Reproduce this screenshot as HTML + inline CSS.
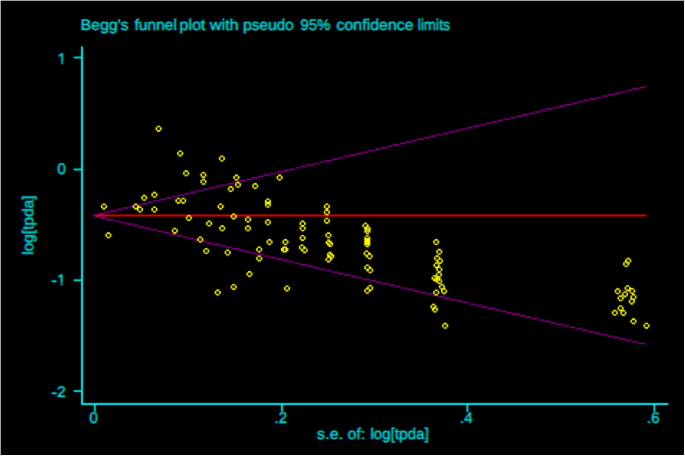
<!DOCTYPE html>
<html><head><meta charset="utf-8"><style>
html,body{margin:0;padding:0;background:#000;}
#f{position:absolute;left:0;top:0;width:683px;height:454px;background:#000;border-top:1px solid #a0a0a0;border-left:1px solid #a0a0a0;border-right:1px solid #fff;border-bottom:1px solid #fff;overflow:hidden}
svg{position:absolute;left:0;top:0}
text{font-family:"Liberation Sans",Arial,sans-serif;font-size:15.4px;text-rendering:geometricPrecision;fill:#00dcdc;stroke:#00dcdc;stroke-width:0.5px}
</style></head><body>
<div id="f"></div><div style="position:absolute;left:0;top:0;width:1px;height:1px;background:#e3e3e3"></div>
<svg width="685" height="456" viewBox="0 0 685 456">
<defs><filter id="bl" x="-5%" y="-5%" width="110%" height="110%"><feConvolveMatrix order="3" kernelMatrix="0.0225 0.1050 0.0225 0.1050 0.4900 0.1050 0.0225 0.1050 0.0225" divisor="1" edgeMode="none"/></filter>
<filter id="mb" x="-5%" y="-5%" width="110%" height="110%"><feConvolveMatrix order="3" kernelMatrix="0.0100 0.0800 0.0100 0.0800 0.6400 0.0800 0.0100 0.0800 0.0100" divisor="1" edgeMode="none"/></filter>
<filter id="tb" x="-5%" y="-5%" width="110%" height="110%" color-interpolation-filters="sRGB"><feConvolveMatrix in="SourceGraphic" order="3" kernelMatrix="0.0100 0.0800 0.0100 0.0800 0.6400 0.0800 0.0100 0.0800 0.0100" divisor="1" edgeMode="none" result="b"/>
<feColorMatrix in="b" type="matrix" values="0 0 0 0 0  0 1 0 0 0  0 0 0 0 0  0 0 0 1 0" result="g"/><feConvolveMatrix in="g" order="3 1" kernelMatrix="0 0.55 0.45" divisor="1" edgeMode="none" preserveAlpha="false" result="g2"/>
<feColorMatrix in="b" type="matrix" values="0 0 0 0 0  0 0 0 0 0  0 0 1 0 0  0 0 0 1 0" result="bb"/><feConvolveMatrix in="bb" order="3 1" kernelMatrix="0.45 0.55 0" divisor="1" edgeMode="none" preserveAlpha="false" result="b2"/>
<feComposite in="g2" in2="b2" operator="arithmetic" k1="0" k2="1" k3="1" k4="0"/></filter></defs>
<g filter="url(#bl)">
<g stroke="#00f0f0" stroke-width="2.0" fill="none">
<polyline points="82,46.5 82,404 668.3,404"/>
</g>
<g stroke="#00f0f0" stroke-width="1.8" fill="none">
<line x1="73.7" y1="57.5" x2="82" y2="57.5"/><line x1="73.7" y1="169.5" x2="82" y2="169.5"/><line x1="73.7" y1="280.25" x2="82" y2="280.25"/><line x1="73.7" y1="391.1" x2="82" y2="391.1"/><line x1="94.8" y1="404" x2="94.8" y2="412"/><line x1="281.9" y1="404" x2="281.9" y2="412"/><line x1="467.4" y1="404" x2="467.4" y2="412"/><line x1="654.4" y1="404" x2="654.4" y2="412"/>
</g>
</g>
<g filter="url(#tb)">
<text x="80.24" y="30.1" textLength="47.99" lengthAdjust="spacingAndGlyphs">Begg's</text><text x="134.20" y="30.1" textLength="42.21" lengthAdjust="spacingAndGlyphs">funnel</text><text x="179.13" y="30.1" textLength="25.98" lengthAdjust="spacingAndGlyphs">plot</text><text x="209.50" y="30.1" textLength="28.85" lengthAdjust="spacingAndGlyphs">with</text><text x="242.77" y="30.1" textLength="50.66" lengthAdjust="spacingAndGlyphs">pseudo</text><text x="300.10" y="30.1" textLength="29.93" lengthAdjust="spacingAndGlyphs">95%</text><text x="336.00" y="30.1" textLength="77.20" lengthAdjust="spacingAndGlyphs">confidence</text><text x="417.25" y="30.1" textLength="32.51" lengthAdjust="spacingAndGlyphs">limits</text>
<text x="65.8" y="63.7" text-anchor="end">1</text><rect x="57.34" y="61.00" width="3.62" height="4.1" fill="#000" stroke="none"/><rect x="62.62" y="61.00" width="3.60" height="4.1" fill="#000" stroke="none"/><text x="65.5" y="174.3" text-anchor="end">0</text><text x="65.4" y="284.8" text-anchor="end"><tspan style="font-size:17.5px" dy="1.45">-</tspan><tspan dy="-1.45">1</tspan></text><rect x="56.94" y="282.10" width="3.62" height="4.1" fill="#000" stroke="none"/><rect x="62.22" y="282.10" width="3.60" height="4.1" fill="#000" stroke="none"/><text x="65.3" y="396.9" text-anchor="end"><tspan style="font-size:17.5px" dy="1.45">-</tspan><tspan dy="-1.45">2</tspan></text>
<text x="93.3" y="423" text-anchor="middle">0</text><text x="280.4" y="423" text-anchor="middle">.2</text><text x="465.9" y="423" text-anchor="middle">.4</text><text x="652.9" y="423" text-anchor="middle">.6</text>
<text x="316.60" y="439.0" textLength="26.19" lengthAdjust="spacingAndGlyphs">s.e.</text><text x="347.30" y="439.0" textLength="17.52" lengthAdjust="spacingAndGlyphs">of:</text><text x="369.98" y="439.0" textLength="58.47" lengthAdjust="spacingAndGlyphs">log[tpda]</text>
<text transform="translate(32.9,254.83) rotate(-90)" textLength="59.40" lengthAdjust="spacingAndGlyphs">log[tpda]</text>
</g>
<g filter="url(#bl)">
<path fill="#900090" d="M92.70,214.55H98.44v1.4H92.70zM98.44,213.11H104.18v1.4H98.44zM104.18,211.68H109.92v1.4H104.18zM109.92,210.24H117.10v1.4H109.92zM117.10,208.81H122.84v1.4H117.10zM122.84,207.37H128.58v1.4H122.84zM128.58,205.94H134.32v1.4H128.58zM134.32,204.50H141.49v1.4H134.32zM141.49,203.07H147.23v1.4H141.49zM147.23,201.63H152.97v1.4H147.23zM152.97,200.20H160.15v1.4H152.97zM160.15,198.76H165.89v1.4H160.15zM165.89,197.33H171.63v1.4H165.89zM171.63,195.89H177.37v1.4H171.63zM177.37,194.46H184.54v1.4H177.37zM184.54,193.02H190.28v1.4H184.54zM190.28,191.59H196.02v1.4H190.28zM196.02,190.15H203.20v1.4H196.02zM203.20,188.72H208.94v1.4H203.20zM208.94,187.28H214.68v1.4H208.94zM214.68,185.85H220.42v1.4H214.68zM220.42,184.41H227.59v1.4H220.42zM227.59,182.98H233.33v1.4H227.59zM233.33,181.54H239.07v1.4H233.33zM239.07,180.11H246.25v1.4H239.07zM246.25,178.67H251.99v1.4H246.25zM251.99,177.24H257.73v1.4H251.99zM257.73,175.80H263.47v1.4H257.73zM263.47,174.37H270.64v1.4H263.47zM270.64,172.93H276.38v1.4H270.64zM276.38,171.50H282.12v1.4H276.38zM282.12,170.06H289.30v1.4H282.12zM289.30,168.63H295.04v1.4H289.30zM295.04,167.19H300.78v1.4H295.04zM300.78,165.76H306.52v1.4H300.78zM306.52,164.32H313.69v1.4H306.52zM313.69,162.89H319.43v1.4H313.69zM319.43,161.45H325.17v1.4H319.43zM325.17,160.02H332.35v1.4H325.17zM332.35,158.58H338.09v1.4H332.35zM338.09,157.15H343.83v1.4H338.09zM343.83,155.71H349.57v1.4H343.83zM349.57,154.28H356.74v1.4H349.57zM356.74,152.84H362.48v1.4H356.74zM362.48,151.41H368.22v1.4H362.48zM368.22,149.97H375.40v1.4H368.22zM375.40,148.54H381.14v1.4H375.40zM381.14,147.10H386.88v1.4H381.14zM386.88,145.67H392.62v1.4H386.88zM392.62,144.23H399.79v1.4H392.62zM399.79,142.80H405.53v1.4H399.79zM405.53,141.36H411.27v1.4H405.53zM411.27,139.93H417.01v1.4H411.27zM417.01,138.49H424.19v1.4H417.01zM424.19,137.06H429.93v1.4H424.19zM429.93,135.62H435.67v1.4H429.93zM435.67,134.19H442.84v1.4H435.67zM442.84,132.75H448.58v1.4H442.84zM448.58,131.32H454.32v1.4H448.58zM454.32,129.88H460.06v1.4H454.32zM460.06,128.45H467.24v1.4H460.06zM467.24,127.01H472.98v1.4H467.24zM472.98,125.58H478.72v1.4H472.98zM478.72,124.14H485.89v1.4H478.72zM485.89,122.71H491.63v1.4H485.89zM491.63,121.27H497.37v1.4H491.63zM497.37,119.84H503.11v1.4H497.37zM503.11,118.40H510.29v1.4H503.11zM510.29,116.97H516.03v1.4H510.29zM516.03,115.53H521.77v1.4H516.03zM521.77,114.10H528.94v1.4H521.77zM528.94,112.66H534.68v1.4H528.94zM534.68,111.23H540.42v1.4H534.68zM540.42,109.79H546.16v1.4H540.42zM546.16,108.36H553.34v1.4H546.16zM553.34,106.92H559.08v1.4H553.34zM559.08,105.49H564.82v1.4H559.08zM564.82,104.05H571.99v1.4H564.82zM571.99,102.62H577.73v1.4H571.99zM577.73,101.18H583.47v1.4H577.73zM583.47,99.75H589.21v1.4H583.47zM589.21,98.31H596.39v1.4H589.21zM596.39,96.88H602.13v1.4H596.39zM602.13,95.44H607.87v1.4H602.13zM607.87,94.01H615.04v1.4H607.87zM615.04,92.57H620.78v1.4H615.04zM620.78,91.14H626.52v1.4H620.78zM626.52,89.70H632.26v1.4H626.52zM632.26,88.27H639.44v1.4H632.26zM639.44,86.83H645.18v1.4H639.44zM645.18,85.40H646.61v1.4H645.18zM93.56,214.64H95.01v1.4H93.56zM95.01,216.09H100.83v1.4H95.01zM100.83,217.55H106.65v1.4H100.83zM106.65,219.00H113.93v1.4H106.65zM113.93,220.46H119.75v1.4H113.93zM119.75,221.91H125.57v1.4H119.75zM125.57,223.37H132.84v1.4H125.57zM132.84,224.82H138.66v1.4H132.84zM138.66,226.28H144.48v1.4H138.66zM144.48,227.73H150.30v1.4H144.48zM150.30,229.19H157.58v1.4H150.30zM157.58,230.64H163.40v1.4H157.58zM163.40,232.10H169.22v1.4H163.40zM169.22,233.55H176.49v1.4H169.22zM176.49,235.01H182.31v1.4H176.49zM182.31,236.46H188.13v1.4H182.31zM188.13,237.92H193.95v1.4H188.13zM193.95,239.37H201.23v1.4H193.95zM201.23,240.83H207.05v1.4H201.23zM207.05,242.28H212.87v1.4H207.05zM212.87,243.74H220.14v1.4H212.87zM220.14,245.19H225.96v1.4H220.14zM225.96,246.65H231.78v1.4H225.96zM231.78,248.10H239.06v1.4H231.78zM239.06,249.56H244.88v1.4H239.06zM244.88,251.01H250.70v1.4H244.88zM250.70,252.47H256.52v1.4H250.70zM256.52,253.92H263.79v1.4H256.52zM263.79,255.38H269.61v1.4H263.79zM269.61,256.83H275.43v1.4H269.61zM275.43,258.29H282.71v1.4H275.43zM282.71,259.74H288.53v1.4H282.71zM288.53,261.20H294.35v1.4H288.53zM294.35,262.65H300.17v1.4H294.35zM300.17,264.11H307.44v1.4H300.17zM307.44,265.56H313.26v1.4H307.44zM313.26,267.02H319.08v1.4H313.26zM319.08,268.47H326.36v1.4H319.08zM326.36,269.93H332.18v1.4H326.36zM332.18,271.38H338.00v1.4H332.18zM338.00,272.84H343.82v1.4H338.00zM343.82,274.29H351.09v1.4H343.82zM351.09,275.75H356.91v1.4H351.09zM356.91,277.20H362.73v1.4H356.91zM362.73,278.66H370.01v1.4H362.73zM370.01,280.11H375.83v1.4H370.01zM375.83,281.57H381.65v1.4H375.83zM381.65,283.02H388.92v1.4H381.65zM388.92,284.48H394.74v1.4H388.92zM394.74,285.93H400.56v1.4H394.74zM400.56,287.39H406.38v1.4H400.56zM406.38,288.84H413.66v1.4H406.38zM413.66,290.30H419.48v1.4H413.66zM419.48,291.75H425.30v1.4H419.48zM425.30,293.21H432.57v1.4H425.30zM432.57,294.66H438.39v1.4H432.57zM438.39,296.12H444.21v1.4H438.39zM444.21,297.57H450.03v1.4H444.21zM450.03,299.03H457.31v1.4H450.03zM457.31,300.48H463.13v1.4H457.31zM463.13,301.94H468.95v1.4H463.13zM468.95,303.39H476.22v1.4H468.95zM476.22,304.85H482.04v1.4H476.22zM482.04,306.30H487.86v1.4H482.04zM487.86,307.76H495.14v1.4H487.86zM495.14,309.21H500.96v1.4H495.14zM500.96,310.67H506.78v1.4H500.96zM506.78,312.12H512.60v1.4H506.78zM512.60,313.58H519.87v1.4H512.60zM519.87,315.03H525.69v1.4H519.87zM525.69,316.49H531.51v1.4H525.69zM531.51,317.94H538.79v1.4H531.51zM538.79,319.40H544.61v1.4H538.79zM544.61,320.85H550.43v1.4H544.61zM550.43,322.31H556.25v1.4H550.43zM556.25,323.76H563.52v1.4H556.25zM563.52,325.22H569.34v1.4H563.52zM569.34,326.67H575.16v1.4H569.34zM575.16,328.13H582.44v1.4H575.16zM582.44,329.58H588.26v1.4H582.44zM588.26,331.04H594.08v1.4H588.26zM594.08,332.49H599.90v1.4H594.08zM599.90,333.95H607.17v1.4H599.90zM607.17,335.40H612.99v1.4H607.17zM612.99,336.86H618.81v1.4H612.99zM618.81,338.31H626.09v1.4H618.81zM626.09,339.77H631.91v1.4H626.09zM631.91,341.22H637.73v1.4H631.91zM637.73,342.68H645.00v1.4H637.73zM645.00,344.13H646.46v1.4H645.00z"/>
<rect x="96.5" y="214.60" width="549.8" height="1.8" fill="#f00"/>
</g>
<g filter="url(#mb)">
<path fill="#ffff00" d="M157.10,125.70h3.00v1.60h-3.00zM157.10,130.10h3.00v1.60h-3.00zM155.60,127.20h1.60v3.00h-1.60zM160.00,127.20h1.60v3.00h-1.60zM178.70,150.40h3.00v1.60h-3.00zM178.70,154.80h3.00v1.60h-3.00zM177.20,151.90h1.60v3.00h-1.60zM181.60,151.90h1.60v3.00h-1.60zM220.40,155.50h3.00v1.60h-3.00zM220.40,159.90h3.00v1.60h-3.00zM218.90,157.00h1.60v3.00h-1.60zM223.30,157.00h1.60v3.00h-1.60zM184.60,170.30h3.00v1.60h-3.00zM184.60,174.70h3.00v1.60h-3.00zM183.10,171.80h1.60v3.00h-1.60zM187.50,171.80h1.60v3.00h-1.60zM201.90,171.90h3.00v1.60h-3.00zM201.90,176.30h3.00v1.60h-3.00zM200.40,173.40h1.60v3.00h-1.60zM204.80,173.40h1.60v3.00h-1.60zM201.90,178.80h3.00v1.60h-3.00zM201.90,183.20h3.00v1.60h-3.00zM200.40,180.30h1.60v3.00h-1.60zM204.80,180.30h1.60v3.00h-1.60zM234.90,174.60h3.00v1.60h-3.00zM234.90,179.00h3.00v1.60h-3.00zM233.40,176.10h1.60v3.00h-1.60zM237.80,176.10h1.60v3.00h-1.60zM236.50,181.80h3.00v1.60h-3.00zM236.50,186.20h3.00v1.60h-3.00zM235.00,183.30h1.60v3.00h-1.60zM239.40,183.30h1.60v3.00h-1.60zM229.30,186.10h3.00v1.60h-3.00zM229.30,190.50h3.00v1.60h-3.00zM227.80,187.60h1.60v3.00h-1.60zM232.20,187.60h1.60v3.00h-1.60zM253.70,183.10h3.00v1.60h-3.00zM253.70,187.50h3.00v1.60h-3.00zM252.20,184.60h1.60v3.00h-1.60zM256.60,184.60h1.60v3.00h-1.60zM278.10,174.60h3.00v1.60h-3.00zM278.10,179.00h3.00v1.60h-3.00zM276.60,176.10h1.60v3.00h-1.60zM281.00,176.10h1.60v3.00h-1.60zM142.70,194.80h3.00v1.60h-3.00zM142.70,199.20h3.00v1.60h-3.00zM141.20,196.30h1.60v3.00h-1.60zM145.60,196.30h1.60v3.00h-1.60zM152.90,191.80h3.00v1.60h-3.00zM152.90,196.20h3.00v1.60h-3.00zM151.40,193.30h1.60v3.00h-1.60zM155.80,193.30h1.60v3.00h-1.60zM176.90,197.70h3.00v1.60h-3.00zM176.90,202.10h3.00v1.60h-3.00zM175.40,199.20h1.60v3.00h-1.60zM179.80,199.20h1.60v3.00h-1.60zM181.70,197.70h3.00v1.60h-3.00zM181.70,202.10h3.00v1.60h-3.00zM180.20,199.20h1.60v3.00h-1.60zM184.60,199.20h1.60v3.00h-1.60zM102.50,203.40h3.00v1.60h-3.00zM102.50,207.80h3.00v1.60h-3.00zM101.00,204.90h1.60v3.00h-1.60zM105.40,204.90h1.60v3.00h-1.60zM134.20,203.40h3.00v1.60h-3.00zM134.20,207.80h3.00v1.60h-3.00zM132.70,204.90h1.60v3.00h-1.60zM137.10,204.90h1.60v3.00h-1.60zM138.50,206.50h3.00v1.60h-3.00zM138.50,210.90h3.00v1.60h-3.00zM137.00,208.00h1.60v3.00h-1.60zM141.40,208.00h1.60v3.00h-1.60zM152.90,206.50h3.00v1.60h-3.00zM152.90,210.90h3.00v1.60h-3.00zM151.40,208.00h1.60v3.00h-1.60zM155.80,208.00h1.60v3.00h-1.60zM219.10,203.40h3.00v1.60h-3.00zM219.10,207.80h3.00v1.60h-3.00zM217.60,204.90h1.60v3.00h-1.60zM222.00,204.90h1.60v3.00h-1.60zM266.40,198.50h3.00v1.60h-3.00zM266.40,202.90h3.00v1.60h-3.00zM264.90,200.00h1.60v3.00h-1.60zM269.30,200.00h1.60v3.00h-1.60zM266.40,201.80h3.00v1.60h-3.00zM266.40,206.20h3.00v1.60h-3.00zM264.90,203.30h1.60v3.00h-1.60zM269.30,203.30h1.60v3.00h-1.60zM187.30,215.00h3.00v1.60h-3.00zM187.30,219.40h3.00v1.60h-3.00zM185.80,216.50h1.60v3.00h-1.60zM190.20,216.50h1.60v3.00h-1.60zM207.60,220.60h3.00v1.60h-3.00zM207.60,225.00h3.00v1.60h-3.00zM206.10,222.10h1.60v3.00h-1.60zM210.50,222.10h1.60v3.00h-1.60zM232.20,213.40h3.00v1.60h-3.00zM232.20,217.80h3.00v1.60h-3.00zM230.70,214.90h1.60v3.00h-1.60zM235.10,214.90h1.60v3.00h-1.60zM220.70,225.30h3.00v1.60h-3.00zM220.70,229.70h3.00v1.60h-3.00zM219.20,226.80h1.60v3.00h-1.60zM223.60,226.80h1.60v3.00h-1.60zM246.50,216.50h3.00v1.60h-3.00zM246.50,220.90h3.00v1.60h-3.00zM245.00,218.00h1.60v3.00h-1.60zM249.40,218.00h1.60v3.00h-1.60zM246.50,225.30h3.00v1.60h-3.00zM246.50,229.70h3.00v1.60h-3.00zM245.00,226.80h1.60v3.00h-1.60zM249.40,226.80h1.60v3.00h-1.60zM266.40,219.30h3.00v1.60h-3.00zM266.40,223.70h3.00v1.60h-3.00zM264.90,220.80h1.60v3.00h-1.60zM269.30,220.80h1.60v3.00h-1.60zM173.30,227.70h3.00v1.60h-3.00zM173.30,232.10h3.00v1.60h-3.00zM171.80,229.20h1.60v3.00h-1.60zM176.20,229.20h1.60v3.00h-1.60zM106.90,232.30h3.00v1.60h-3.00zM106.90,236.70h3.00v1.60h-3.00zM105.40,233.80h1.60v3.00h-1.60zM109.80,233.80h1.60v3.00h-1.60zM198.80,236.50h3.00v1.60h-3.00zM198.80,240.90h3.00v1.60h-3.00zM197.30,238.00h1.60v3.00h-1.60zM201.70,238.00h1.60v3.00h-1.60zM204.70,248.00h3.00v1.60h-3.00zM204.70,252.40h3.00v1.60h-3.00zM203.20,249.50h1.60v3.00h-1.60zM207.60,249.50h1.60v3.00h-1.60zM226.20,249.50h3.00v1.60h-3.00zM226.20,253.90h3.00v1.60h-3.00zM224.70,251.00h1.60v3.00h-1.60zM229.10,251.00h1.60v3.00h-1.60zM268.00,239.10h3.00v1.60h-3.00zM268.00,243.50h3.00v1.60h-3.00zM266.50,240.60h1.60v3.00h-1.60zM270.90,240.60h1.60v3.00h-1.60zM257.70,246.50h3.00v1.60h-3.00zM257.70,250.90h3.00v1.60h-3.00zM256.20,248.00h1.60v3.00h-1.60zM260.60,248.00h1.60v3.00h-1.60zM257.70,255.40h3.00v1.60h-3.00zM257.70,259.80h3.00v1.60h-3.00zM256.20,256.90h1.60v3.00h-1.60zM260.60,256.90h1.60v3.00h-1.60zM248.00,271.10h3.00v1.60h-3.00zM248.00,275.50h3.00v1.60h-3.00zM246.50,272.60h1.60v3.00h-1.60zM250.90,272.60h1.60v3.00h-1.60zM232.20,283.90h3.00v1.60h-3.00zM232.20,288.30h3.00v1.60h-3.00zM230.70,285.40h1.60v3.00h-1.60zM235.10,285.40h1.60v3.00h-1.60zM216.20,289.60h3.00v1.60h-3.00zM216.20,294.00h3.00v1.60h-3.00zM214.70,291.10h1.60v3.00h-1.60zM219.10,291.10h1.60v3.00h-1.60zM283.90,239.10h3.00v1.60h-3.00zM283.90,243.50h3.00v1.60h-3.00zM282.40,240.60h1.60v3.00h-1.60zM286.80,240.60h1.60v3.00h-1.60zM282.40,246.50h3.00v1.60h-3.00zM282.40,250.90h3.00v1.60h-3.00zM280.90,248.00h1.60v3.00h-1.60zM285.30,248.00h1.60v3.00h-1.60zM283.80,246.50h3.00v1.60h-3.00zM283.80,250.90h3.00v1.60h-3.00zM282.30,248.00h1.60v3.00h-1.60zM286.70,248.00h1.60v3.00h-1.60zM301.10,220.60h3.00v1.60h-3.00zM301.10,225.00h3.00v1.60h-3.00zM299.60,222.10h1.60v3.00h-1.60zM304.00,222.10h1.60v3.00h-1.60zM301.10,225.30h3.00v1.60h-3.00zM301.10,229.70h3.00v1.60h-3.00zM299.60,226.80h1.60v3.00h-1.60zM304.00,226.80h1.60v3.00h-1.60zM301.10,234.90h3.00v1.60h-3.00zM301.10,239.30h3.00v1.60h-3.00zM299.60,236.40h1.60v3.00h-1.60zM304.00,236.40h1.60v3.00h-1.60zM300.40,244.40h3.00v1.60h-3.00zM300.40,248.80h3.00v1.60h-3.00zM298.90,245.90h1.60v3.00h-1.60zM303.30,245.90h1.60v3.00h-1.60zM303.20,247.20h3.00v1.60h-3.00zM303.20,251.60h3.00v1.60h-3.00zM301.70,248.70h1.60v3.00h-1.60zM306.10,248.70h1.60v3.00h-1.60zM285.50,285.40h3.00v1.60h-3.00zM285.50,289.80h3.00v1.60h-3.00zM284.00,286.90h1.60v3.00h-1.60zM288.40,286.90h1.60v3.00h-1.60zM325.40,203.40h3.00v1.60h-3.00zM325.40,207.80h3.00v1.60h-3.00zM323.90,204.90h1.60v3.00h-1.60zM328.30,204.90h1.60v3.00h-1.60zM325.40,209.30h3.00v1.60h-3.00zM325.40,213.70h3.00v1.60h-3.00zM323.90,210.80h1.60v3.00h-1.60zM328.30,210.80h1.60v3.00h-1.60zM325.40,217.70h3.00v1.60h-3.00zM325.40,222.10h3.00v1.60h-3.00zM323.90,219.20h1.60v3.00h-1.60zM328.30,219.20h1.60v3.00h-1.60zM326.90,232.30h3.00v1.60h-3.00zM326.90,236.70h3.00v1.60h-3.00zM325.40,233.80h1.60v3.00h-1.60zM329.80,233.80h1.60v3.00h-1.60zM327.20,239.60h3.00v1.60h-3.00zM327.20,244.00h3.00v1.60h-3.00zM325.70,241.10h1.60v3.00h-1.60zM330.10,241.10h1.60v3.00h-1.60zM328.60,241.00h3.00v1.60h-3.00zM328.60,245.40h3.00v1.60h-3.00zM327.10,242.50h1.60v3.00h-1.60zM331.50,242.50h1.60v3.00h-1.60zM328.40,251.80h3.00v1.60h-3.00zM328.40,256.20h3.00v1.60h-3.00zM326.90,253.30h1.60v3.00h-1.60zM331.30,253.30h1.60v3.00h-1.60zM329.80,253.20h3.00v1.60h-3.00zM329.80,257.60h3.00v1.60h-3.00zM328.30,254.70h1.60v3.00h-1.60zM332.70,254.70h1.60v3.00h-1.60zM327.00,256.40h3.00v1.60h-3.00zM327.00,260.80h3.00v1.60h-3.00zM325.50,257.90h1.60v3.00h-1.60zM329.90,257.90h1.60v3.00h-1.60zM364.00,222.70h3.00v1.60h-3.00zM364.00,227.10h3.00v1.60h-3.00zM362.50,224.20h1.60v3.00h-1.60zM366.90,224.20h1.60v3.00h-1.60zM366.10,225.80h3.00v1.60h-3.00zM366.10,230.20h3.00v1.60h-3.00zM364.60,227.30h1.60v3.00h-1.60zM369.00,227.30h1.60v3.00h-1.60zM365.90,228.20h3.00v1.60h-3.00zM365.90,232.60h3.00v1.60h-3.00zM364.40,229.70h1.60v3.00h-1.60zM368.80,229.70h1.60v3.00h-1.60zM365.80,235.20h3.00v1.60h-3.00zM365.80,239.60h3.00v1.60h-3.00zM364.30,236.70h1.60v3.00h-1.60zM368.70,236.70h1.60v3.00h-1.60zM365.80,238.10h3.00v1.60h-3.00zM365.80,242.50h3.00v1.60h-3.00zM364.30,239.60h1.60v3.00h-1.60zM368.70,239.60h1.60v3.00h-1.60zM365.80,238.90h3.00v1.60h-3.00zM365.80,243.30h3.00v1.60h-3.00zM364.30,240.40h1.60v3.00h-1.60zM368.70,240.40h1.60v3.00h-1.60zM365.80,241.20h3.00v1.60h-3.00zM365.80,245.60h3.00v1.60h-3.00zM364.30,242.70h1.60v3.00h-1.60zM368.70,242.70h1.60v3.00h-1.60zM365.15,250.45h3.00v1.60h-3.00zM365.15,254.85h3.00v1.60h-3.00zM363.65,251.95h1.60v3.00h-1.60zM368.05,251.95h1.60v3.00h-1.60zM368.05,253.35h3.00v1.60h-3.00zM368.05,257.75h3.00v1.60h-3.00zM366.55,254.85h1.60v3.00h-1.60zM370.95,254.85h1.60v3.00h-1.60zM365.80,264.40h3.00v1.60h-3.00zM365.80,268.80h3.00v1.60h-3.00zM364.30,265.90h1.60v3.00h-1.60zM368.70,265.90h1.60v3.00h-1.60zM368.70,267.30h3.00v1.60h-3.00zM368.70,271.70h3.00v1.60h-3.00zM367.20,268.80h1.60v3.00h-1.60zM371.60,268.80h1.60v3.00h-1.60zM368.70,284.90h3.00v1.60h-3.00zM368.70,289.30h3.00v1.60h-3.00zM367.20,286.40h1.60v3.00h-1.60zM371.60,286.40h1.60v3.00h-1.60zM365.80,287.80h3.00v1.60h-3.00zM365.80,292.20h3.00v1.60h-3.00zM364.30,289.30h1.60v3.00h-1.60zM368.70,289.30h1.60v3.00h-1.60zM434.70,239.10h3.00v1.60h-3.00zM434.70,243.50h3.00v1.60h-3.00zM433.20,240.60h1.60v3.00h-1.60zM437.60,240.60h1.60v3.00h-1.60zM437.80,248.80h3.00v1.60h-3.00zM437.80,253.20h3.00v1.60h-3.00zM436.30,250.30h1.60v3.00h-1.60zM440.70,250.30h1.60v3.00h-1.60zM435.60,255.30h3.00v1.60h-3.00zM435.60,259.70h3.00v1.60h-3.00zM434.10,256.80h1.60v3.00h-1.60zM438.50,256.80h1.60v3.00h-1.60zM438.50,257.90h3.00v1.60h-3.00zM438.50,262.30h3.00v1.60h-3.00zM437.00,259.40h1.60v3.00h-1.60zM441.40,259.40h1.60v3.00h-1.60zM435.00,262.20h3.00v1.60h-3.00zM435.00,266.60h3.00v1.60h-3.00zM433.50,263.70h1.60v3.00h-1.60zM437.90,263.70h1.60v3.00h-1.60zM437.80,266.50h3.00v1.60h-3.00zM437.80,270.90h3.00v1.60h-3.00zM436.30,268.00h1.60v3.00h-1.60zM440.70,268.00h1.60v3.00h-1.60zM437.40,271.70h3.00v1.60h-3.00zM437.40,276.10h3.00v1.60h-3.00zM435.90,273.20h1.60v3.00h-1.60zM440.30,273.20h1.60v3.00h-1.60zM433.10,275.20h3.00v1.60h-3.00zM433.10,279.60h3.00v1.60h-3.00zM431.60,276.70h1.60v3.00h-1.60zM436.00,276.70h1.60v3.00h-1.60zM435.40,276.60h3.00v1.60h-3.00zM435.40,281.00h3.00v1.60h-3.00zM433.90,278.10h1.60v3.00h-1.60zM438.30,278.10h1.60v3.00h-1.60zM437.70,278.00h3.00v1.60h-3.00zM437.70,282.40h3.00v1.60h-3.00zM436.20,279.50h1.60v3.00h-1.60zM440.60,279.50h1.60v3.00h-1.60zM440.40,283.80h3.00v1.60h-3.00zM440.40,288.20h3.00v1.60h-3.00zM438.90,285.30h1.60v3.00h-1.60zM443.30,285.30h1.60v3.00h-1.60zM442.60,288.20h3.00v1.60h-3.00zM442.60,292.60h3.00v1.60h-3.00zM441.10,289.70h1.60v3.00h-1.60zM445.50,289.70h1.60v3.00h-1.60zM434.70,289.50h3.00v1.60h-3.00zM434.70,293.90h3.00v1.60h-3.00zM433.20,291.00h1.60v3.00h-1.60zM437.60,291.00h1.60v3.00h-1.60zM432.00,303.70h3.00v1.60h-3.00zM432.00,308.10h3.00v1.60h-3.00zM430.50,305.20h1.60v3.00h-1.60zM434.90,305.20h1.60v3.00h-1.60zM433.40,306.50h3.00v1.60h-3.00zM433.40,310.90h3.00v1.60h-3.00zM431.90,308.00h1.60v3.00h-1.60zM436.30,308.00h1.60v3.00h-1.60zM443.70,322.80h3.00v1.60h-3.00zM443.70,327.20h3.00v1.60h-3.00zM442.20,324.30h1.60v3.00h-1.60zM446.60,324.30h1.60v3.00h-1.60zM626.70,257.80h3.00v1.60h-3.00zM626.70,262.20h3.00v1.60h-3.00zM625.20,259.30h1.60v3.00h-1.60zM629.60,259.30h1.60v3.00h-1.60zM624.60,261.10h3.00v1.60h-3.00zM624.60,265.50h3.00v1.60h-3.00zM623.10,262.60h1.60v3.00h-1.60zM627.50,262.60h1.60v3.00h-1.60zM616.20,288.30h3.00v1.60h-3.00zM616.20,292.70h3.00v1.60h-3.00zM614.70,289.80h1.60v3.00h-1.60zM619.10,289.80h1.60v3.00h-1.60zM626.10,285.20h3.00v1.60h-3.00zM626.10,289.60h3.00v1.60h-3.00zM624.60,286.70h1.60v3.00h-1.60zM629.00,286.70h1.60v3.00h-1.60zM630.70,288.00h3.00v1.60h-3.00zM630.70,292.40h3.00v1.60h-3.00zM629.20,289.50h1.60v3.00h-1.60zM633.60,289.50h1.60v3.00h-1.60zM623.50,291.20h3.00v1.60h-3.00zM623.50,295.60h3.00v1.60h-3.00zM622.00,292.70h1.60v3.00h-1.60zM626.40,292.70h1.60v3.00h-1.60zM619.10,295.30h3.00v1.60h-3.00zM619.10,299.70h3.00v1.60h-3.00zM617.60,296.80h1.60v3.00h-1.60zM622.00,296.80h1.60v3.00h-1.60zM632.00,294.00h3.00v1.60h-3.00zM632.00,298.40h3.00v1.60h-3.00zM630.50,295.50h1.60v3.00h-1.60zM634.90,295.50h1.60v3.00h-1.60zM630.30,298.40h3.00v1.60h-3.00zM630.30,302.80h3.00v1.60h-3.00zM628.80,299.90h1.60v3.00h-1.60zM633.20,299.90h1.60v3.00h-1.60zM619.10,305.20h3.00v1.60h-3.00zM619.10,309.60h3.00v1.60h-3.00zM617.60,306.70h1.60v3.00h-1.60zM622.00,306.70h1.60v3.00h-1.60zM621.90,309.90h3.00v1.60h-3.00zM621.90,314.30h3.00v1.60h-3.00zM620.40,311.40h1.60v3.00h-1.60zM624.80,311.40h1.60v3.00h-1.60zM613.30,309.80h3.00v1.60h-3.00zM613.30,314.20h3.00v1.60h-3.00zM611.80,311.30h1.60v3.00h-1.60zM616.20,311.30h1.60v3.00h-1.60zM632.00,318.30h3.00v1.60h-3.00zM632.00,322.70h3.00v1.60h-3.00zM630.50,319.80h1.60v3.00h-1.60zM634.90,319.80h1.60v3.00h-1.60zM645.00,322.70h3.00v1.60h-3.00zM645.00,327.10h3.00v1.60h-3.00zM643.50,324.20h1.60v3.00h-1.60zM647.90,324.20h1.60v3.00h-1.60z"/>
</g>
</svg>
</body></html>
